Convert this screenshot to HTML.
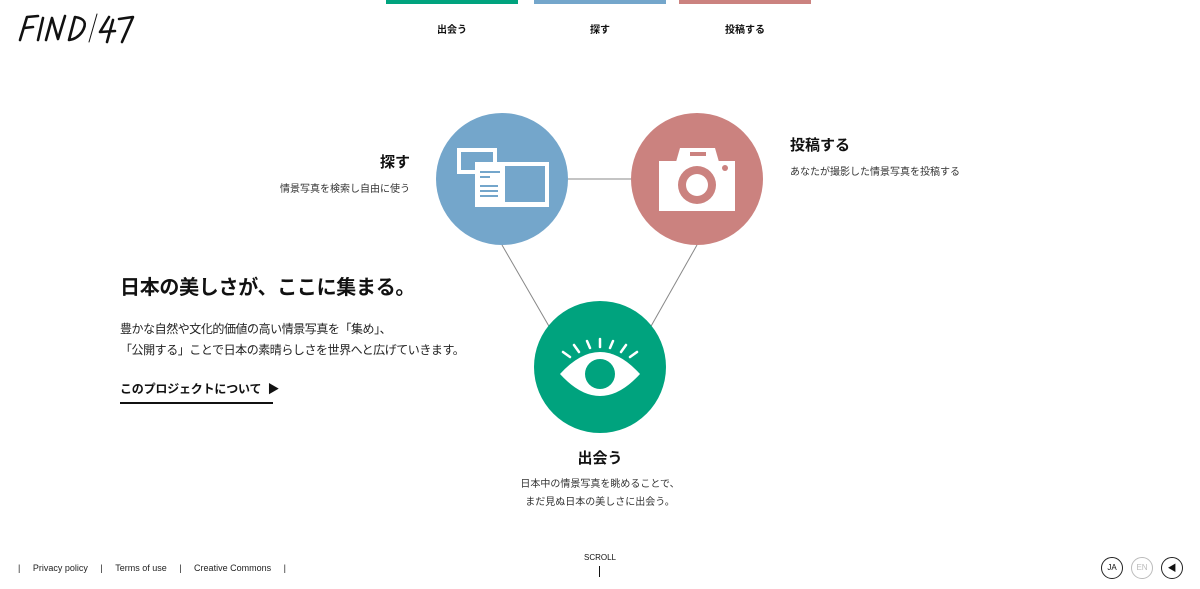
<!DOCTYPE html>
<html><head><meta charset="utf-8"><style>
*{margin:0;padding:0;box-sizing:border-box}
body{width:1200px;height:589px;background:#fff;position:relative;overflow:hidden;font-family:"Liberation Sans","Noto Sans CJK JP",sans-serif;color:#111}
.a{position:absolute;white-space:nowrap}
.bar{position:absolute;top:0;height:4px;width:132px}
.nav{font-size:10px;font-weight:bold;top:21px;text-align:center;width:132px}
.s{font-size:10px;color:#333}
.ft{font-size:9px;color:#222;top:563px}
.cir{position:absolute;width:22px;height:22px;border-radius:50%;border:1px solid #222;font-size:8px;text-align:center;line-height:20px;top:557px}
</style></head><body>
<svg class="a" style="left:16px;top:12px" width="120" height="32" viewBox="0 0 120 32"><g fill="none" stroke="#111" stroke-width="2.6" stroke-linecap="round" stroke-linejoin="round"><path d="M4 28 L11 5 L22 4 M8 16 L17 15"/><path d="M27 6 L22 28"/><path d="M30 28 L36 6 L42 27 L49 4"/><path d="M53 28 L59 5 Q74 7 66 20 Q61 27 53 28"/><path d="M73 30 L81 2" stroke-width="1"/><path d="M93 5 L84 20 L99 19 M97 8 L91 30"/><path d="M103 7 L117 5 L106 30"/></g></svg>
<div class="bar" style="left:386px;background:#00a37e"></div>
<div class="bar" style="left:534px;background:#74a6cb"></div>
<div class="bar" style="left:679px;background:#cb827f"></div>
<div class="a nav" style="left:386px">出会う</div>
<div class="a nav" style="left:534px">探す</div>
<div class="a nav" style="left:679px">投稿する</div>

<svg class="a" style="left:0;top:0" width="1200" height="589">
<line x1="502" y1="179" x2="697" y2="179" stroke="#888" stroke-width="1"/>
<line x1="502" y1="245" x2="550" y2="328" stroke="#888" stroke-width="1"/>
<line x1="697" y1="245" x2="650" y2="328" stroke="#888" stroke-width="1"/>
<circle cx="502" cy="179" r="66" fill="#74a6cb"/>
<circle cx="697" cy="179" r="66" fill="#cb827f"/>
<circle cx="600" cy="367" r="66" fill="#00a37e"/>
<rect x="459" y="150" width="36" height="22" fill="none" stroke="#fff" stroke-width="4"/>
<rect x="475" y="162" width="74" height="45" fill="#fff"/>
<rect x="505" y="166" width="40" height="36" fill="#74a6cb"/>
<g stroke="#74a6cb" stroke-width="2"><line x1="480" y1="172" x2="500" y2="172"/><line x1="480" y1="177" x2="490" y2="177"/><line x1="480" y1="186" x2="498" y2="186"/><line x1="480" y1="191" x2="498" y2="191"/><line x1="480" y1="196" x2="498" y2="196"/></g>
<path d="M676 162 L680 148 L715 148 L719 162 Z" fill="#fff"/>
<rect x="690" y="152" width="16" height="4" fill="#cb827f"/>
<rect x="659" y="161" width="76" height="50" fill="#fff"/>
<circle cx="697" cy="185" r="19" fill="#cb827f"/><circle cx="697" cy="185" r="11" fill="#fff"/>
<circle cx="725" cy="168" r="3" fill="#cb827f"/>
<path d="M560 374 Q600 330 640 374 Q600 418 560 374 Z" fill="#fff"/>
<circle cx="600" cy="374" r="15" fill="#00a37e"/>
<g stroke="#fff" stroke-width="2.5" stroke-linecap="round"><line x1="563" y1="352" x2="570" y2="357"/><line x1="574" y1="345" x2="579" y2="352"/><line x1="587" y1="341" x2="590" y2="348"/><line x1="600" y1="339" x2="600" y2="347"/><line x1="613" y1="341" x2="610" y2="348"/><line x1="626" y1="345" x2="621" y2="352"/><line x1="637" y1="352" x2="630" y2="357"/></g>
</svg>

<div class="a" style="right:790px;top:151px;font-size:15px;font-weight:bold">探す</div>
<div class="a s" style="right:790px;top:180px">情景写真を検索し自由に使う</div>
<div class="a" style="left:790px;top:134px;font-size:15px;font-weight:bold">投稿する</div>
<div class="a s" style="left:790px;top:163px">あなたが撮影した情景写真を投稿する</div>
<div class="a" style="left:500px;width:200px;text-align:center;top:447px;font-size:15px;font-weight:bold">出会う</div>
<div class="a s" style="left:500px;width:200px;text-align:center;top:476px;line-height:18px">日本中の情景写真を眺めることで、<br>まだ見ぬ日本の美しさに出会う。</div>

<div class="a" style="left:120px;top:271px;font-size:20px;font-weight:bold;letter-spacing:-0.3px">日本の美しさが、ここに集まる。</div>
<div class="a" style="left:120px;top:319px;font-size:12px;line-height:21px;color:#222;letter-spacing:-0.45px">豊かな自然や文化的価値の高い情景写真を「集め」、<br>「公開する」ことで日本の素晴らしさを世界へと広げていきます。</div>
<div class="a" style="left:120px;top:380px;font-size:12px;font-weight:bold;letter-spacing:-0.2px">このプロジェクトについて&nbsp;&nbsp;▶</div>
<div class="a" style="left:120px;top:402px;width:153px;height:2px;background:#111"></div>

<div class="a ft" style="left:18px">|&nbsp;&nbsp;&nbsp;&nbsp;&nbsp;Privacy policy&nbsp;&nbsp;&nbsp;&nbsp;&nbsp;|&nbsp;&nbsp;&nbsp;&nbsp;&nbsp;Terms of use&nbsp;&nbsp;&nbsp;&nbsp;&nbsp;|&nbsp;&nbsp;&nbsp;&nbsp;&nbsp;Creative Commons&nbsp;&nbsp;&nbsp;&nbsp;&nbsp;|</div>
<div class="a" style="left:570px;width:60px;text-align:center;top:553px;font-size:8px">SCROLL</div>
<div class="a" style="left:599px;top:566px;width:1px;height:11px;background:#111"></div>
<div class="cir" style="left:1101px">JA</div>
<div class="cir" style="left:1131px;border-color:#bbb;color:#bbb">EN</div>
<div class="cir" style="left:1161px;font-size:9px">◀</div>
</body></html>
